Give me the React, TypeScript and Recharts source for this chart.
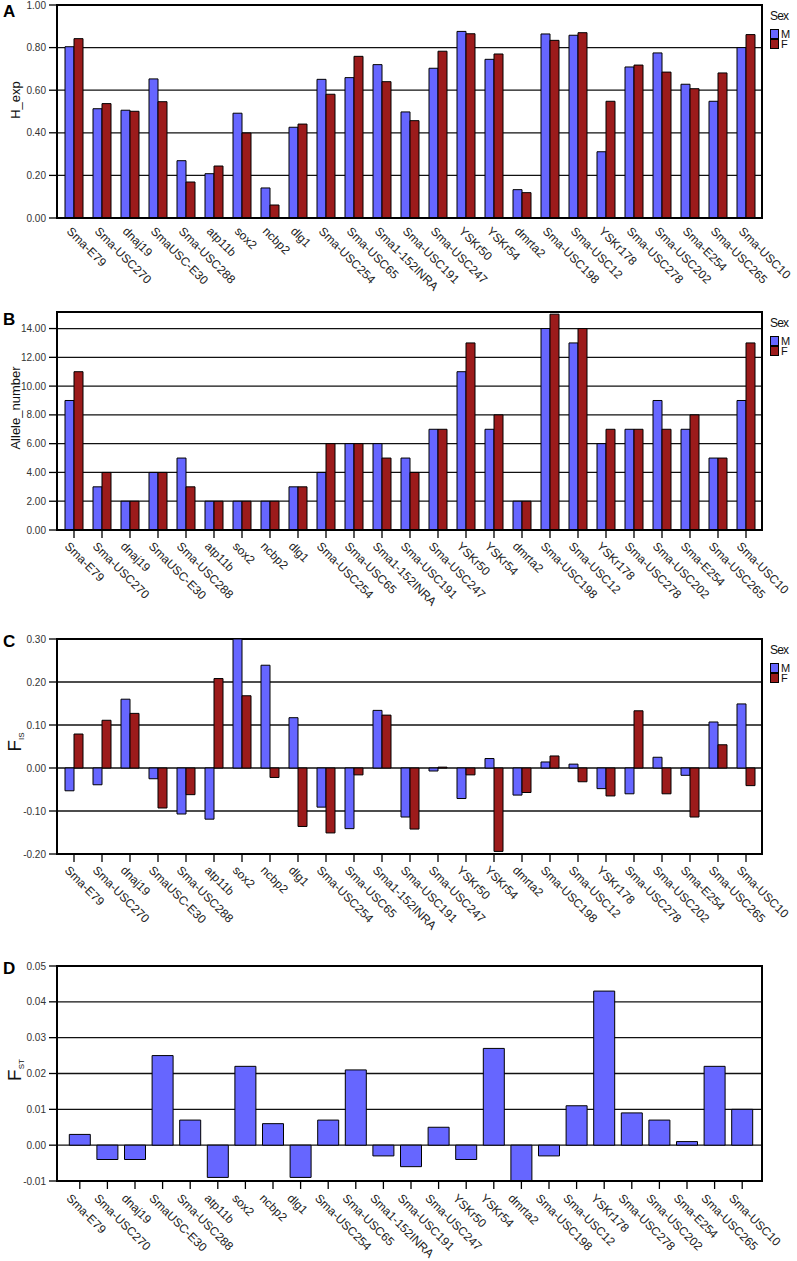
import React from "react";
import * as RC from "recharts";
import {
  BarChart, Bar, XAxis, YAxis, CartesianGrid, Legend,
} from "recharts";

// loci on the x axis (same order in all four panels)
const loci = [
  "Sma-E79", "Sma-USC270", "dnaj19", "SmaUSC-E30", "Sma-USC288", "atp11b", "sox2",
  "ncbp2", "dlg1", "Sma-USC254", "Sma-USC65", "Sma1-152INRA", "Sma-USC191",
  "Sma-USC247", "YSKr50", "YSKr54", "dmrta2", "Sma-USC198", "Sma-USC12", "YSKr178",
  "Sma-USC278", "Sma-USC202", "Sma-E254", "Sma-USC265", "Sma-USC10",
];

// A: expected heterozygosity
const hexpM = [0.804, 0.513, 0.506, 0.653, 0.269, 0.208, 0.492, 0.141, 0.426, 0.651, 0.659, 0.72, 0.498, 0.703, 0.876, 0.745, 0.133, 0.864, 0.858, 0.311, 0.709, 0.775, 0.628, 0.548, 0.8];
const hexpF = [0.842, 0.537, 0.501, 0.546, 0.169, 0.244, 0.399, 0.061, 0.441, 0.581, 0.759, 0.64, 0.457, 0.783, 0.865, 0.77, 0.119, 0.834, 0.87, 0.548, 0.718, 0.685, 0.607, 0.681, 0.861];
// B: allele number
const alleleM = [9, 3, 2, 4, 5, 2, 2, 2, 3, 4, 6, 6, 5, 7, 11, 7, 2, 14, 13, 6, 7, 9, 7, 5, 9];
const alleleF = [11, 4, 2, 4, 3, 2, 2, 2, 3, 6, 6, 5, 4, 7, 13, 8, 2, 15, 14, 7, 7, 7, 8, 5, 13];
// C: F_IS
const fisM = [-0.053, -0.039, 0.16, -0.025, -0.107, -0.119, 0.3, 0.239, 0.117, -0.091, -0.141, 0.134, -0.114, -0.007, -0.071, 0.022, -0.063, 0.014, 0.009, -0.048, -0.06, 0.025, -0.017, 0.107, 0.149];
const fisF = [0.079, 0.111, 0.127, -0.093, -0.062, 0.208, 0.168, -0.022, -0.136, -0.151, -0.016, 0.123, -0.142, 0.002, -0.016, -0.194, -0.057, 0.028, -0.032, -0.065, 0.133, -0.06, -0.114, 0.054, -0.041];
// D: F_ST
const fst = [0.003, -0.004, -0.004, 0.025, 0.007, -0.009, 0.022, 0.006, -0.009, 0.007, 0.021, -0.003, -0.006, 0.005, -0.004, 0.027, -0.01, -0.003, 0.011, 0.043, 0.009, 0.007, 0.001, 0.022, 0.01];

const hexpTicks = [0, 0.2, 0.4, 0.6, 0.8, 1.0];
const alleleTicks = [0, 2, 4, 6, 8, 10, 12, 14];
const fisTicks = [-0.2, -0.1, 0, 0.1, 0.2, 0.3];
const fstTicks = [-0.01, 0, 0.01, 0.02, 0.03, 0.04, 0.05];
const sexOrder = ["M", "F"];

const BLUE = "#6666ff";
const RED = "#9c1b1b";
const FONT = "Arial, 'Liberation Sans', sans-serif";

const twoSeries = (m: number[], f: number[]) => loci.map((locus, i) => ({ locus, M: m[i], F: f[i] }));
const hexpData = twoSeries(hexpM, hexpF);
const alleleData = twoSeries(alleleM, alleleF);
const fisData = twoSeries(fisM, fisF);
const fstData = loci.map((locus, i) => ({ locus, FST: fst[i] }));

// plot-area hook (recharts 3.1+); falls back to nothing if missing
const usePlotArea: () => any = (RC as any).usePlotArea || (() => null);

// black box round the plot area
function PlotFrame() {
  const area = usePlotArea();
  if (!area) return null;
  return (
    <rect x={area.x} y={area.y} width={area.width} height={area.height} fill="none" stroke="#000" strokeWidth={2} />
  );
}

function SlantTick(props: any) {
  const { x, y, payload, dx0, dy0 } = props;
  const tx = x + dx0;
  const ty = y + dy0;
  return (
    <text x={tx} y={ty} transform={`rotate(45 ${tx} ${ty})`} fontSize={12} fontFamily={FONT} fill="#222">
      {payload.value}
    </text>
  );
}

function SexLegend(props: any) {
  const items = [...(props.payload || [])].sort(
    (a: any, b: any) => sexOrder.indexOf(a.value) - sexOrder.indexOf(b.value)
  );
  return (
    <div style={{ fontFamily: FONT, color: "#111", lineHeight: 1 }}>
      <div style={{ fontSize: 12, letterSpacing: -0.8, marginBottom: 7 }}>Sex</div>
      {items.map((it: any) => (
        <div key={it.value} style={{ display: "flex", alignItems: "center", fontSize: 11, height: 10 }}>
          <span style={{ width: 7, height: 8, background: it.color, border: "1px solid #000", marginRight: 2 }} />
          {it.value}
        </div>
      ))}
    </div>
  );
}

type PanelProps = {
  top: number;
  mt: number;
  plotH: number;
  axisH: number;
  data: any[];
  domain: [number, number];
  ticks: number[];
  keys: { key: string; color: string }[];
  gap: number;
  pad: { left: number; right: number };
  showTickLine: boolean;
  labelOffset: [number, number];
  legend: boolean;
};

const frameLine = { stroke: "#000", strokeWidth: 2 };

function Panel(p: PanelProps) {
  return (
    <div style={{ position: "absolute", left: 0, top: p.top }}>
      <BarChart
        width={797}
        height={p.mt + p.plotH + p.axisH}
        data={p.data}
        margin={{ top: p.mt, right: 35, bottom: 0, left: 7 }}
        barCategoryGap={p.gap}
        barGap={0}
      >
        <CartesianGrid vertical={false} stroke="#111" strokeWidth={1.3} />
        <XAxis
          dataKey="locus"
          interval={0}
          height={p.axisH}
          padding={p.pad}
          tickSize={8}
          tickMargin={0}
          tickLine={p.showTickLine ? { stroke: "#000", strokeWidth: 1.3 } : false}
          axisLine={frameLine}
          tick={<SlantTick dx0={p.labelOffset[0]} dy0={p.labelOffset[1]} />}
        />
        <YAxis
          type="number"
          domain={p.domain}
          ticks={p.ticks}
          allowDataOverflow
          width={50}
          tickSize={8}
          tickMargin={3}
          tickFormatter={(v: number) => v.toFixed(2)}
          tick={{ fontSize: 10, fill: "#333", fontFamily: FONT }}
          tickLine={{ stroke: "#000", strokeWidth: 1.3 }}
          axisLine={frameLine}
        />
        {p.legend && (
          <Legend
            layout="vertical"
            align="center"
            verticalAlign="middle"
            content={<SexLegend />}
            wrapperStyle={{ left: 770, top: p.mt + 5, width: 30 }}
          />
        )}
        {p.keys.map((k) => (
          <Bar key={k.key} dataKey={k.key} name={k.key} fill={k.color} stroke="#000" strokeWidth={1} isAnimationActive={false} />
        ))}
        <PlotFrame />
      </BarChart>
    </div>
  );
}

const letterStyle: React.CSSProperties = {
  position: "absolute", left: 3, fontFamily: FONT, fontWeight: "bold", fontSize: 17, lineHeight: "17px",
};

function RotTitle({ x, y, children }: { x: number; y: number; children: React.ReactNode }) {
  return (
    <div
      style={{
        position: "absolute", left: x, top: y, transform: "translate(-50%, -50%) rotate(-90deg)",
        whiteSpace: "nowrap", fontFamily: FONT, color: "#111", lineHeight: 1,
      }}
    >
      {children}
    </div>
  );
}

export default function App() {
  const mf = [{ key: "M", color: BLUE }, { key: "F", color: RED }];
  return (
    <div style={{ position: "absolute", left: 0, top: 0, width: 797, height: 1261, background: "#fff" }}>
      <Panel top={0} mt={5} plotH={213} axisH={82} data={hexpData} domain={[0, 1]} ticks={hexpTicks} keys={mf}
        gap={5} pad={{ left: 3, right: 2 }} showTickLine={false} labelOffset={[-8, 6]} legend />
      <Panel top={300} mt={12} plotH={218} axisH={97} data={alleleData} domain={[0, 15.15]} ticks={alleleTicks} keys={mf}
        gap={5} pad={{ left: 3, right: 2 }} showTickLine labelOffset={[-10, 9]} legend />
      <Panel top={627} mt={12} plotH={215} axisH={100} data={fisData} domain={[-0.2, 0.3]} ticks={fisTicks} keys={mf}
        gap={5} pad={{ left: 3, right: 2 }} showTickLine labelOffset={[-10, 9]} legend />
      <Panel top={954} mt={12} plotH={215} axisH={80} data={fstData} domain={[-0.01, 0.05]} ticks={fstTicks}
        keys={[{ key: "FST", color: BLUE }]} gap={3.3} pad={{ left: 9, right: 6 }} showTickLine labelOffset={[-14, 10]} legend={false} />

      <div style={{ ...letterStyle, top: 3 }}>A</div>
      <div style={{ ...letterStyle, top: 311 }}>B</div>
      <div style={{ ...letterStyle, top: 633 }}>C</div>
      <div style={{ ...letterStyle, top: 960 }}>D</div>

      <RotTitle x={15} y={100}><span style={{ fontSize: 13 }}>H_exp</span></RotTitle>
      <RotTitle x={15} y={408}><span style={{ fontSize: 13 }}>Allele_number</span></RotTitle>
      <RotTitle x={15} y={742}>
        <span style={{ fontSize: 19 }}>F</span><span style={{ fontSize: 8, verticalAlign: "-3px" }}>IS</span>
      </RotTitle>
      <RotTitle x={15} y={1070}>
        <span style={{ fontSize: 19 }}>F</span><span style={{ fontSize: 8, verticalAlign: "-3px" }}>ST</span>
      </RotTitle>
    </div>
  );
}
